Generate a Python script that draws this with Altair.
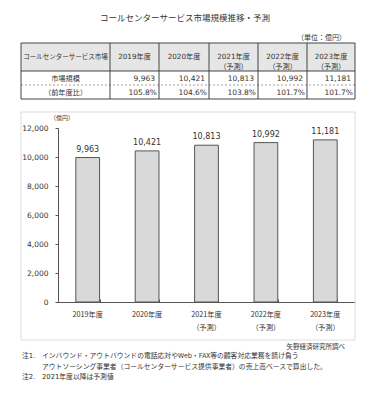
import altair as alt
import pandas as pd

# ---- data ----
years = ["2019年度", "2020年度", "2021年度", "2022年度", "2023年度"]
forecast = [False, False, True, True, True]
values = [9963, 10421, 10813, 10992, 11181]
yoy = [105.8, 104.6, 103.8, 101.7, 101.7]
y_ticks = [0, 2000, 4000, 6000, 8000, 10000, 12000]

title_text = "コールセンターサービス市場規模推移・予測"
unit_text = "（単位：億円）"
table_head = "コールセンターサービス市場"
row_labels = ["市場規模", "（前年度比）"]
fc_label = "（予測）"
axis_unit = "（億円）"
source_text = "矢野経済研究所調べ"
note1_head = "注1."
note1_lines = [
    "インバウンド・アウトバウンドの電話応対やWeb・FAX等の顧客対応業務を請け負う",
    "アウトソーシング事業者（コールセンターサービス提供事業者）の売上高ベースで算出した。",
]
note2_head = "注2."
note2_text = "2021年度以降は予測値"

FONT = "DejaVu Sans, Noto Sans CJK JP, sans-serif"
JFONT = "Noto Sans CJK JP, sans-serif"
W, H = 372, 384

# ---- layout constants (canvas pixels) ----
COL_EDGES = [13, 102, 151, 201, 250, 299, 347]
ROW_EDGES = [35, 63, 77, 91]
ROW_TEXT_Y = [49, 71, 85]

# ---- bar chart ----
bar_df = pd.DataFrame({"year": years, "value": values})
fc_years = [y for y, f in zip(years, forecast) if f]
label_expr = (
    "indexof([" + ",".join("'%s'" % y for y in fc_years) + "], datum.value) >= 0"
    " ? [datum.label, '%s'] : datum.label" % fc_label
)

xscale = alt.Scale(domain=years, range=[50, 347], paddingInner=0.6, paddingOuter=0.3)
yscale = alt.Scale(domain=[0, 12000], range=[294, 120])

bars = alt.Chart(bar_df).mark_bar(fill="#d9d9d9", stroke="#555555", strokeWidth=1).encode(
    x=alt.X("year:N", sort=years, scale=xscale,
            axis=alt.Axis(orient="bottom", offset=-90, title=None, ticks=False,
                          domainColor="#555555", labelAngle=0, labelFont=JFONT,
                          labelFontSize=7.2, labelColor="#333333", labelPadding=8,
                          labelLineHeight=13, labelExpr=label_expr, labelBaseline="top")),
    y=alt.Y("value:Q", scale=yscale,
            axis=alt.Axis(orient="left", offset=-50, title=None, values=y_ticks,
                          labelExpr="format(datum.value, ',d')",
                          grid=False, tickSize=3, tickColor="#555555",
                          domainColor="#555555", labelFont=FONT, labelFontSize=7.5,
                          labelColor="#333333", labelPadding=7)),
)

bar_labels = alt.Chart(bar_df).mark_text(
    font=FONT, fontSize=8, color="#333333", baseline="alphabetic", dy=-6
).encode(
    x=alt.X("year:N", sort=years, scale=xscale,
            axis=alt.Axis(orient="top", offset=-294, labels=False, domain=False,
                          ticks=True, tickBand="extent", tickSize=3,
                          tickColor="#555555", title=None)),
    y=alt.Y("value:Q", scale=yscale, axis=None),
    text=alt.Text("value:Q", format=",d"),
)

bar_layer = alt.layer(bars, bar_labels).resolve_axis(x="independent", y="independent")

# ---- table ----
head_texts = [table_head] + [y + ("\n" + fc_label if f else "") for y, f in zip(years, forecast)]
first_head = [{"t": head_texts[0], "x": (COL_EDGES[0] + COL_EDGES[1]) / 2, "y": ROW_TEXT_Y[0]}]
center_cells = []
right_cells = []
for ci, t in enumerate(head_texts[1:], start=1):
    center_cells.append({"t": t, "x": (COL_EDGES[ci] + COL_EDGES[ci + 1]) / 2, "y": ROW_TEXT_Y[0]})
for ri, lab in enumerate(row_labels):
    center_cells.append({"t": lab, "x": (COL_EDGES[0] + COL_EDGES[1]) / 2, "y": ROW_TEXT_Y[ri + 1]})
for ci, v in enumerate(values):
    right_cells.append({"t": f"{v:,}", "x": COL_EDGES[ci + 2] - 4, "y": ROW_TEXT_Y[1]})
for ci, p in enumerate(yoy):
    right_cells.append({"t": f"{p:.1f}%", "x": COL_EDGES[ci + 2] - 2, "y": ROW_TEXT_Y[2]})

px = lambda f: alt.X(f, scale=None, axis=None)
py = lambda f: alt.Y(f, scale=None, axis=None)

head_bg = alt.Chart(pd.DataFrame({"x": [COL_EDGES[0]], "x2": [COL_EDGES[-1]],
                                  "y": [ROW_EDGES[0]], "y2": [ROW_EDGES[1]]})).mark_rect(
    fill="#e6e6e6").encode(x=px("x:Q"), x2="x2:Q", y=py("y:Q"), y2="y2:Q")

vlines = alt.Chart(pd.DataFrame({"x": COL_EDGES, "y": ROW_EDGES[0], "y2": ROW_EDGES[-1]})).mark_rule(
    color="#444444", strokeWidth=1).encode(x=px("x:Q"), y=py("y:Q"), y2="y2:Q")

hsolid = alt.Chart(pd.DataFrame({"y": [ROW_EDGES[0], ROW_EDGES[1], ROW_EDGES[3]],
                                 "x": COL_EDGES[0], "x2": COL_EDGES[-1]})).mark_rule(
    color="#444444", strokeWidth=1).encode(y=py("y:Q"), x=px("x:Q"), x2="x2:Q")

hdash = alt.Chart(pd.DataFrame({"y": [ROW_EDGES[2]], "x": COL_EDGES[0], "x2": COL_EDGES[-1]})).mark_rule(
    color="#888888", strokeWidth=0.8, strokeDash=[2, 2]).encode(y=py("y:Q"), x=px("x:Q"), x2="x2:Q")

first_txt = alt.Chart(pd.DataFrame(first_head)).mark_text(
    font=JFONT, fontSize=6.5, color="#333333", align="center", baseline="middle").encode(
    x=px("x:Q"), y=py("y:Q"), text="t:N")

center_txt = alt.Chart(pd.DataFrame(center_cells)).mark_text(
    font=FONT, fontSize=7.2, color="#333333", align="center", baseline="middle",
    lineBreak="\n", lineHeight=10).encode(x=px("x:Q"), y=py("y:Q"), text="t:N")

right_txt = alt.Chart(pd.DataFrame(right_cells)).mark_text(
    font=FONT, fontSize=7.5, color="#333333", align="right", baseline="middle").encode(
    x=px("x:Q"), y=py("y:Q"), text="t:N")

# ---- static texts ----
def txt(s, x, y, size, align="left", font=JFONT):
    return alt.Chart(pd.DataFrame({"t": [s]})).mark_text(
        font=font, fontSize=size, color="#333333", align=align, baseline="middle"
    ).encode(text="t:N", x=alt.value(x), y=alt.value(y))

box = alt.Chart(pd.DataFrame({"a": [0]})).mark_rect(
    fill=None, stroke="#dddddd", strokeWidth=1).encode(
    x=alt.value(13), x2=alt.value(347), y=alt.value(104), y2=alt.value(332))

statics = [
    txt(title_text, 177, 10, 8.5, "center"),
    txt(unit_text, 338, 30, 7, "right"),
    txt(axis_unit, 54, 110, 6, "center"),
    txt(source_text, 337, 339, 6.5, "right"),
    txt(note1_head, 14, 348, 6.8, "left", FONT),
    txt(note1_lines[0], 34, 348, 6.8),
    txt(note1_lines[1], 34, 359, 6.8),
    txt(note2_head, 14, 369, 6.8, "left", FONT),
    txt(note2_text, 34, 369, 6.8, "left", FONT),
]

chart = alt.layer(
    box, bar_layer, head_bg, hsolid, hdash, vlines, first_txt, center_txt, right_txt, *statics
).resolve_scale(x="independent", y="independent").properties(
    width=W, height=H, autosize=alt.AutoSizeParams(type="none"), padding=0,
    background="white"
).configure_view(stroke=None)

chart.save("out.html", embed_options={"renderer": "svg", "actions": False})
